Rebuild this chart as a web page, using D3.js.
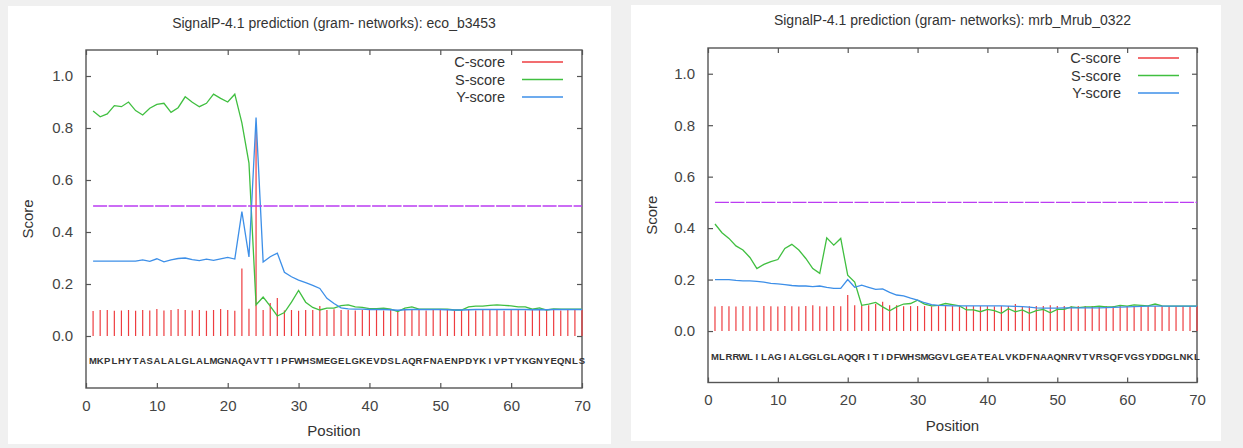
<!DOCTYPE html>
<html>
<head>
<meta charset="utf-8">
<script src="https://cdn.jsdelivr.net/npm/d3@7"></script>
<style>
  body { margin: 0; background: #f0f0f0; }
  svg text { font-family: "Liberation Sans", Arial, sans-serif; }
</style>
</head>
<body>
<svg id="chart" width="1243" height="448"></svg>
<script>
// ---- data ----
var xTicks = [0, 10, 20, 30, 40, 50, 60, 70];
var yTicks = [0.0, 0.2, 0.4, 0.6, 0.8, 1.0];
var cutoff = 0.5;
var legendNames = ['C-score', 'S-score', 'Y-score'];

var ecoTitle = 'SignalP-4.1 prediction (gram- networks): eco_b3453';
var ecoSeq = 'MKPLHYTASALALGLALMGNAQAVTTIPFWHSMEGELGKEVDSLAQRFNAENPDYKIVPTYKGNYEQNLS';
var ecoC = [0.096, 0.1, 0.1, 0.097, 0.098, 0.1, 0.097, 0.1, 0.098, 0.104,
            0.098, 0.1, 0.104, 0.1, 0.098, 0.1, 0.097, 0.1, 0.104, 0.1,
            0.097, 0.26, 0.105, 0.80, 0.1, 0.127, 0.146, 0.098, 0.1, 0.097,
            0.1, 0.1, 0.115, 0.1, 0.103, 0.1, 0.1, 0.098, 0.1, 0.1,
            0.1, 0.098, 0.1, 0.097, 0.1, 0.1, 0.1, 0.098, 0.1, 0.1,
            0.1, 0.097, 0.1, 0.1, 0.098, 0.1, 0.1, 0.1, 0.097, 0.1,
            0.1, 0.098, 0.1, 0.1, 0.1, 0.1, 0.098, 0.1, 0.1, 0.1];
var ecoS = [0.865, 0.843, 0.854, 0.886, 0.882, 0.90, 0.867, 0.85, 0.876, 0.891,
            0.895, 0.86, 0.878, 0.92, 0.899, 0.882, 0.895, 0.93, 0.914, 0.90,
            0.93, 0.82, 0.665, 0.12, 0.15, 0.115, 0.077, 0.09, 0.13, 0.175,
            0.13, 0.11, 0.1, 0.107, 0.107, 0.117, 0.12, 0.112, 0.11, 0.105,
            0.105, 0.107, 0.103, 0.094, 0.107, 0.112, 0.103, 0.103, 0.103, 0.103,
            0.103, 0.1, 0.1, 0.112, 0.115, 0.115, 0.118, 0.12, 0.118, 0.116,
            0.112, 0.112, 0.103, 0.108, 0.1, 0.104, 0.103, 0.103, 0.103, 0.103];
var ecoY = [0.288, 0.288, 0.288, 0.288, 0.288, 0.288, 0.288, 0.293, 0.287, 0.297,
            0.285, 0.293, 0.298, 0.3, 0.294, 0.29, 0.296, 0.291, 0.297, 0.302,
            0.296, 0.478, 0.304, 0.84, 0.285, 0.305, 0.319, 0.245, 0.228, 0.215,
            0.205, 0.195, 0.183, 0.145, 0.125, 0.108, 0.104, 0.103, 0.103, 0.102,
            0.102, 0.102, 0.101, 0.099, 0.101, 0.102, 0.102, 0.102, 0.102, 0.102,
            0.101, 0.1, 0.1, 0.101, 0.102, 0.102, 0.102, 0.102, 0.102, 0.102,
            0.102, 0.102, 0.101, 0.102, 0.101, 0.102, 0.102, 0.102, 0.102, 0.102];

var mrbTitle = 'SignalP-4.1 prediction (gram- networks): mrb_Mrub_0322';
var mrbSeq = 'MLRRWLILAGIALGGLGLAQQRITIDFWHSMGGVLGEATEALVKDFNAAQNRVTVRSQFVGSYDDGLNKL';
var mrbC = [0.095, 0.097, 0.096, 0.095, 0.097, 0.096, 0.095, 0.097, 0.096, 0.095,
            0.097, 0.096, 0.095, 0.097, 0.1, 0.096, 0.095, 0.097, 0.096, 0.14,
            0.1, 0.1, 0.1, 0.105, 0.114, 0.1, 0.1, 0.096, 0.097, 0.097,
            0.097, 0.096, 0.097, 0.097, 0.097, 0.096, 0.097, 0.097, 0.097, 0.097,
            0.096, 0.097, 0.097, 0.105, 0.097, 0.096, 0.097, 0.097, 0.1, 0.097,
            0.097, 0.096, 0.097, 0.097, 0.097, 0.096, 0.097, 0.097, 0.097, 0.097,
            0.096, 0.097, 0.097, 0.097, 0.097, 0.096, 0.097, 0.097, 0.097, 0.097];
var mrbS = [0.416, 0.382, 0.36, 0.331, 0.315, 0.286, 0.243, 0.259, 0.27, 0.278,
            0.321, 0.337, 0.315, 0.282, 0.243, 0.224, 0.362, 0.334, 0.36, 0.217,
            0.19, 0.10, 0.105, 0.111, 0.094, 0.079, 0.094, 0.105, 0.107, 0.12,
            0.105, 0.098, 0.1, 0.107, 0.103, 0.098, 0.082, 0.082, 0.075, 0.084,
            0.079, 0.069, 0.087, 0.075, 0.082, 0.069, 0.079, 0.084, 0.071, 0.084,
            0.084, 0.094, 0.091, 0.094, 0.094, 0.097, 0.094, 0.094, 0.1, 0.097,
            0.102, 0.1, 0.098, 0.105, 0.098, 0.097, 0.097, 0.097, 0.097, 0.097];
var mrbY = [0.2, 0.2, 0.2, 0.197, 0.195, 0.195, 0.193, 0.19, 0.185, 0.183,
            0.18, 0.177, 0.175, 0.175, 0.173, 0.175, 0.17, 0.166, 0.166, 0.2,
            0.17, 0.178, 0.17, 0.162, 0.164, 0.15, 0.14, 0.137, 0.128, 0.12,
            0.11, 0.103, 0.1, 0.099, 0.098, 0.098, 0.098, 0.098, 0.098, 0.098,
            0.098, 0.098, 0.097, 0.096, 0.095, 0.093, 0.09, 0.089, 0.089, 0.089,
            0.09, 0.09, 0.09, 0.09, 0.09, 0.09, 0.091, 0.092, 0.093, 0.094,
            0.095, 0.096, 0.097, 0.097, 0.097, 0.097, 0.097, 0.097, 0.097, 0.097];

var colors = { C: '#ee3d40', S: '#40bf40', Y: '#3d8fe8', cut: '#bb3cf2' };

var svg = d3.select('#chart');

/**
 * draw one gnuplot-like SignalP panel
 */
function drawPanel(p) {
    var g = svg.append('g');

    g.append('rect')
        .attr('x', p.card[0]).attr('y', p.card[1])
        .attr('width', p.card[2]).attr('height', p.card[3])
        .attr('fill', '#fff');

    var x = d3.scaleLinear().domain([0, 70]).range([p.left, p.right]),
        y = d3.scaleLinear().domain([-0.2, 1.1]).range([p.bottom, p.top]),
        pos = d3.range(1, 71);

    // axes, ticks pointing inward like gnuplot
    var ax = g.append('g').attr('class', 'axes');
    ax.append('g').attr('transform', 'translate(0,' + p.bottom + ')')
        .call(d3.axisBottom(x).tickValues(xTicks).tickSizeInner(-5).tickSizeOuter(0).tickPadding(12));
    ax.append('g').attr('transform', 'translate(0,' + p.top + ')')
        .call(d3.axisTop(x).tickValues(xTicks).tickSizeInner(-5).tickSizeOuter(0).tickFormat(''));
    ax.append('g').attr('transform', 'translate(' + p.left + ',0)')
        .call(d3.axisLeft(y).tickValues(yTicks).tickSizeInner(-5).tickSizeOuter(0).tickPadding(13)
            .tickFormat(d3.format('.1f')));
    ax.append('g').attr('transform', 'translate(' + p.right + ',0)')
        .call(d3.axisRight(y).tickValues(yTicks).tickSizeInner(-5).tickSizeOuter(0).tickFormat(''));
    ax.selectAll('.domain').remove();
    ax.selectAll('line').attr('stroke', '#555').attr('stroke-width', 1.2);
    ax.selectAll('text').attr('font-size', 15).attr('fill', '#444')
        .attr('font-family', '"Liberation Sans", Arial, sans-serif');

    g.append('rect')
        .attr('x', p.left).attr('y', p.top)
        .attr('width', p.right - p.left).attr('height', p.bottom - p.top)
        .attr('fill', 'none').attr('stroke', '#555').attr('stroke-width', 1.4);

    // title and axis labels
    g.append('text').attr('x', (p.left + p.right) / 2).attr('y', p.titleY)
        .attr('text-anchor', 'middle').attr('font-size', 14).attr('fill', '#333')
        .text(p.title);
    g.append('text').attr('x', (p.left + p.right) / 2).attr('y', p.bottom + 48)
        .attr('text-anchor', 'middle').attr('font-size', 15).attr('fill', '#333')
        .text('Position');
    g.append('text')
        .attr('transform', 'translate(' + p.scoreX + ',' + (p.top + p.bottom) / 2 + ') rotate(-90)')
        .attr('text-anchor', 'middle').attr('dy', '0.35em').attr('font-size', 15).attr('fill', '#333')
        .text('Score');

    // C-score impulses
    g.append('g').selectAll('line')
        .data(pos)
        .enter()
        .append('line')
        .attr('x1', function(d) { return x(d); })
        .attr('x2', function(d) { return x(d); })
        .attr('y1', y(0))
        .attr('y2', function(d) { return y(p.c[d - 1]); })
        .attr('stroke', colors.C).attr('stroke-width', 1.2);

    var line = function(vals) {
        return d3.line()
            .x(function(d) { return x(d); })
            .y(function(d) { return y(vals[d - 1]); })(pos);
    };

    g.append('path').attr('d', line(p.s))
        .attr('fill', 'none').attr('stroke', colors.S).attr('stroke-width', 1.3);
    g.append('path').attr('d', line(p.y))
        .attr('fill', 'none').attr('stroke', colors.Y).attr('stroke-width', 1.3);
    g.append('path').attr('d', line(pos.map(function() { return cutoff; })))
        .attr('fill', 'none').attr('stroke', colors.cut).attr('stroke-width', 1.3)
        .attr('stroke-dasharray', '14,1.5');

    // sequence letters
    g.append('g').selectAll('text')
        .data(p.seq.split(''))
        .enter()
        .append('text')
        .attr('x', function(d, i) { return x(i + 1); })
        .attr('y', p.seqY)
        .attr('text-anchor', 'middle')
        .attr('font-size', 9.5).attr('font-weight', 'bold').attr('fill', '#333')
        .text(function(d) { return d; });

    // legend
    var lg = g.append('g');
    [colors.C, colors.S, colors.Y].forEach(function(c, i) {
        var ly = p.legendY + i * 17.5;
        lg.append('text').attr('x', p.legendX).attr('y', ly).attr('dy', '0.35em')
            .attr('text-anchor', 'end').attr('font-size', 14.5).attr('fill', '#333')
            .text(legendNames[i]);
        lg.append('line').attr('x1', p.legendX + 17).attr('x2', p.legendX + 58)
            .attr('y1', ly).attr('y2', ly).attr('stroke', c).attr('stroke-width', 1.3);
    });
}

drawPanel({
    card: [8, 6, 603, 438],
    left: 86, right: 582, top: 50, bottom: 388,
    titleY: 28, scoreX: 28, seqY: 364, legendX: 505, legendY: 62,
    title: ecoTitle, seq: ecoSeq, c: ecoC, s: ecoS, y: ecoY
});

drawPanel({
    card: [631, 5, 590, 436],
    left: 708, right: 1197, top: 48, bottom: 382.5,
    titleY: 25, scoreX: 652, seqY: 360, legendX: 1121, legendY: 58,
    title: mrbTitle, seq: mrbSeq, c: mrbC, s: mrbS, y: mrbY
});
</script>
</body>
</html>
